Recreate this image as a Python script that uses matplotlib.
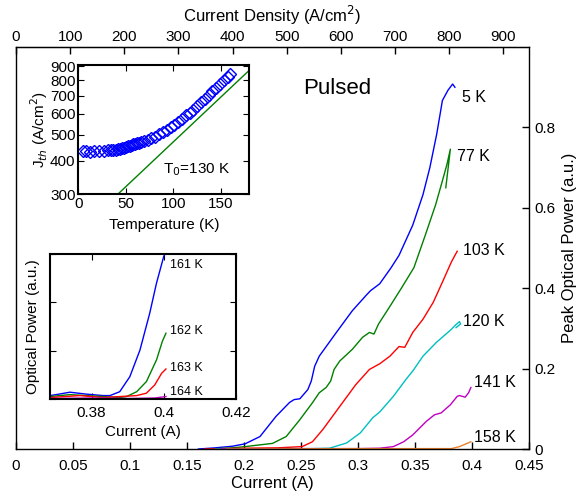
import matplotlib
matplotlib.use('Agg')
import matplotlib.pyplot as plt
from matplotlib.ticker import FuncFormatter, NullFormatter, NullLocator, FixedLocator
import numpy as np

plt.rcParams['font.family'] = ['Liberation Sans', 'DejaVu Sans']

# ---------------- main data (Current A vs Peak Optical Power a.u.) ----------------
I_5K = [0.160, 0.175, 0.190, 0.201, 0.214, 0.228, 0.240, 0.244, 0.249, 0.256, 0.259, 0.262, 0.266,
        0.281, 0.295, 0.307, 0.311, 0.319, 0.329, 0.336, 0.348, 0.357, 0.363, 0.369, 0.372, 0.374,
        0.379, 0.383, 0.385]
P_5K = [0.0, 0.003, 0.007, 0.013, 0.031, 0.081, 0.116, 0.123, 0.125, 0.148, 0.169, 0.206, 0.231,
        0.290, 0.344, 0.382, 0.394, 0.411, 0.451, 0.482, 0.557, 0.633, 0.700, 0.783, 0.833, 0.867,
        0.893, 0.908, 0.900]

I_77K = [0.170, 0.190, 0.201, 0.225, 0.237, 0.249, 0.260, 0.266, 0.272, 0.276, 0.279, 0.284, 0.295,
         0.304, 0.310, 0.314, 0.318, 0.328, 0.338, 0.349, 0.359, 0.368, 0.374, 0.378, 0.381, 0.377]
P_77K = [0.0, 0.003, 0.006, 0.014, 0.031, 0.073, 0.115, 0.140, 0.153, 0.169, 0.198, 0.219, 0.248,
         0.278, 0.290, 0.286, 0.311, 0.355, 0.400, 0.451, 0.532, 0.607, 0.667, 0.708, 0.746, 0.650]

I_103K = [0.165, 0.200, 0.230, 0.251, 0.260, 0.269, 0.284, 0.298, 0.310, 0.319, 0.328, 0.336, 0.341,
          0.348, 0.357, 0.366, 0.374, 0.382, 0.387]
P_103K = [0.0, 0.002, 0.003, 0.006, 0.018, 0.048, 0.106, 0.160, 0.198, 0.212, 0.231, 0.255, 0.253,
          0.290, 0.323, 0.365, 0.415, 0.466, 0.492]

I_120K = [0.175, 0.230, 0.260, 0.275, 0.290, 0.302, 0.313, 0.319, 0.331, 0.342, 0.348, 0.357, 0.369,
          0.382, 0.385, 0.389, 0.390, 0.386]
P_120K = [0.0, 0.001, 0.001, 0.002, 0.015, 0.040, 0.078, 0.092, 0.131, 0.173, 0.194, 0.231, 0.266,
          0.298, 0.307, 0.317, 0.311, 0.302]

I_141K = [0.180, 0.250, 0.300, 0.319, 0.331, 0.340, 0.348, 0.360, 0.367, 0.373, 0.381, 0.387, 0.389,
          0.394, 0.397, 0.399]
P_141K = [0.0, 0.001, 0.001, 0.002, 0.006, 0.018, 0.035, 0.069, 0.085, 0.090, 0.110, 0.131, 0.133,
          0.129, 0.140, 0.153]

I_158K = [0.185, 0.300, 0.382, 0.389, 0.399]
P_158K = [0.0, 0.001, 0.001, 0.006, 0.018]

main_series = [
    (I_5K, P_5K, '#0000FF', '5 K', 0.391, 0.875),
    (I_77K, P_77K, '#008000', '77 K', 0.387, 0.727),
    (I_103K, P_103K, '#FF0000', '103 K', 0.392, 0.494),
    (I_120K, P_120K, '#00BFBF', '120 K', 0.392, 0.318),
    (I_141K, P_141K, '#BF00BF', '141 K', 0.402, 0.165),
    (I_158K, P_158K, '#E8802C', '158 K', 0.402, 0.028),
]

x_ticks = [0, 0.05, 0.1, 0.15, 0.2, 0.25, 0.3, 0.35, 0.4, 0.45]
y_ticks = [0, 0.2, 0.4, 0.6, 0.8]
J_ticks = [0, 100, 200, 300, 400, 500, 600, 700, 800, 900]
J_per_A = 2105.0

# ---------------- inset 1: threshold current density vs temperature ----------------
T_data = [5, 8, 12, 17, 22, 27, 31, 34, 37, 40, 42, 44, 46, 48, 50, 52, 54, 56, 58, 60, 62, 64, 66,
          69, 73, 77, 81, 85, 89, 93, 97, 101, 105, 109, 113, 117, 121, 125, 129, 133, 137, 141,
          145, 149, 153, 157, 160]
Jth_data = [434, 435, 433, 434, 435, 436, 437, 438, 438, 440, 441, 443, 445, 448, 451, 454, 456, 459,
            461, 463, 465, 467, 469, 473, 479, 485, 492, 502, 511, 522, 533, 546, 560, 574, 590, 605,
            620, 640, 660, 682, 705, 727, 748, 772, 797, 820, 840]
T0 = 130.0
fit_T = [41.5, 180.0]
fit_J0 = 300.0
inset1_xticks = [0, 50, 100, 150]
inset1_yticks = [300, 400, 500, 600, 700, 800, 900]

# ---------------- inset 2: optical power near 0.4 A ----------------
I_161K = [0.3685, 0.371, 0.374, 0.3786, 0.3832, 0.3851, 0.3878, 0.3906, 0.3934, 0.3961, 0.398, 0.400, 0.4007]
P_161K = [0.07, 0.10, 0.14, 0.10, 0.07, 0.07, 0.15, 0.46, 1.01, 1.77, 2.40, 2.95, 3.05]
I_162K = [0.3685, 0.374, 0.3786, 0.3878, 0.3897, 0.3925, 0.3952, 0.398, 0.3996, 0.4006]
P_162K = [0.05, 0.09, 0.07, 0.03, 0.05, 0.15, 0.36, 0.81, 1.19, 1.36]
I_163K = [0.3685, 0.3768, 0.3832, 0.3925, 0.3952, 0.3975, 0.3994, 0.4006]
P_163K = [0.03, 0.07, 0.03, 0.07, 0.12, 0.29, 0.53, 0.62]
I_164K = [0.3685, 0.380, 0.390, 0.3975, 0.4006]
P_164K = [0.01, 0.02, 0.01, 0.02, 0.05]
inset2_series = [
    (I_161K, P_161K, '#0000FF', '161 K', 2.77),
    (I_162K, P_162K, '#008000', '162 K', 1.41),
    (I_163K, P_163K, '#FF0000', '163 K', 0.64),
    (I_164K, P_164K, '#BF00BF', '164 K', 0.15),
]
inset2_xticks = [0.38, 0.40, 0.42]

gfmt = FuncFormatter(lambda v, p: ('%g' % round(v, 4)))

fig = plt.figure(figsize=(5.8, 4.95), dpi=100)

# ---------------- main axes ----------------
ax = fig.add_axes([0.0276, 0.0929, 0.8845, 0.812])
for I, P, c, lab, tx, ty in main_series:
    ax.plot(I, P, color=c, lw=1.0)
    ax.text(tx, ty, lab, fontsize=11.5, ha='left', va='center')
ax.text(0.252, 0.896, 'Pulsed', fontsize=16, ha='left', va='center')
ax.set_xlim(0, 0.45)
ax.set_ylim(0, 1.0)
ax.set_xticks(x_ticks)
ax.xaxis.set_major_formatter(gfmt)
ax.yaxis.tick_right()
ax.yaxis.set_label_position('right')
ax.set_yticks(y_ticks)
ax.yaxis.set_major_formatter(gfmt)
ax.tick_params(direction='in', length=5, labelsize=11, width=1)
ax.tick_params(axis='x', pad=7)
ax.set_xlabel('Current (A)', fontsize=12, labelpad=2)
ax.set_ylabel('Peak Optical Power (a.u.)', fontsize=12, labelpad=5)
for s in ax.spines.values():
    s.set_linewidth(1.0)

sec = ax.secondary_xaxis('top', functions=(lambda i: i * J_per_A, lambda j: j / J_per_A))
sec.set_xticks(J_ticks)
sec.tick_params(direction='in', length=5, labelsize=11, width=1, pad=2)
sec.set_xlabel('Current Density (A/cm$^2$)', fontsize=12, labelpad=6)

# ---------------- inset 1 ----------------
a1 = fig.add_axes([0.135, 0.6075, 0.295, 0.2612])
a1.plot(T_data, Jth_data, linestyle='none', marker='D', markersize=6.5, markerfacecolor='none',
        markeredgecolor='#0000FF', markeredgewidth=1.0)
fT = np.array(fit_T)
a1.plot(fT, fit_J0 * np.exp((fT - fit_T[0]) / T0), color='#008000', lw=1.0)
a1.set_yscale('log')
a1.set_xlim(0, 180)
a1.set_ylim(300, 910)
a1.yaxis.set_major_locator(FixedLocator(inset1_yticks))
a1.yaxis.set_minor_locator(NullLocator())
a1.yaxis.set_major_formatter(FuncFormatter(lambda v, p: '%d' % v))
a1.yaxis.set_minor_formatter(NullFormatter())
a1.set_xticks(inset1_xticks)
a1.tick_params(direction='in', length=4, labelsize=11, top=True, right=True, pad=2)
a1.set_xlabel('Temperature (K)', fontsize=11, labelpad=5)
a1.set_ylabel('J$_{th}$ (A/cm$^2$)', fontsize=11, labelpad=0)
a1.text(124.6, 370, 'T$_0$=130 K', fontsize=11, ha='center', va='center')
for s in a1.spines.values():
    s.set_linewidth(1.5)

# ---------------- inset 2 ----------------
a2 = fig.add_axes([0.0862, 0.194, 0.3207, 0.293])
for I, P, c, lab, ly in inset2_series:
    a2.plot(I, P, color=c, lw=1.0)
    a2.text(0.4017, ly, lab, fontsize=9, ha='left', va='center')
a2.set_xlim(0.3685, 0.42)
a2.set_ylim(0, 3)
a2.set_xticks(inset2_xticks)
a2.xaxis.set_major_formatter(gfmt)
a2.set_yticks([0, 1, 2, 3])
a2.yaxis.set_major_formatter(NullFormatter())
a2.tick_params(direction='in', length=4, labelsize=11, top=True, right=True, pad=5)
a2.set_xlabel('Current (A)', fontsize=11, labelpad=4)
a2.set_ylabel('Optical Power (a.u.)', fontsize=11, labelpad=2)
for s in a2.spines.values():
    s.set_linewidth(1.5)

fig.savefig('out.png', dpi=100)
